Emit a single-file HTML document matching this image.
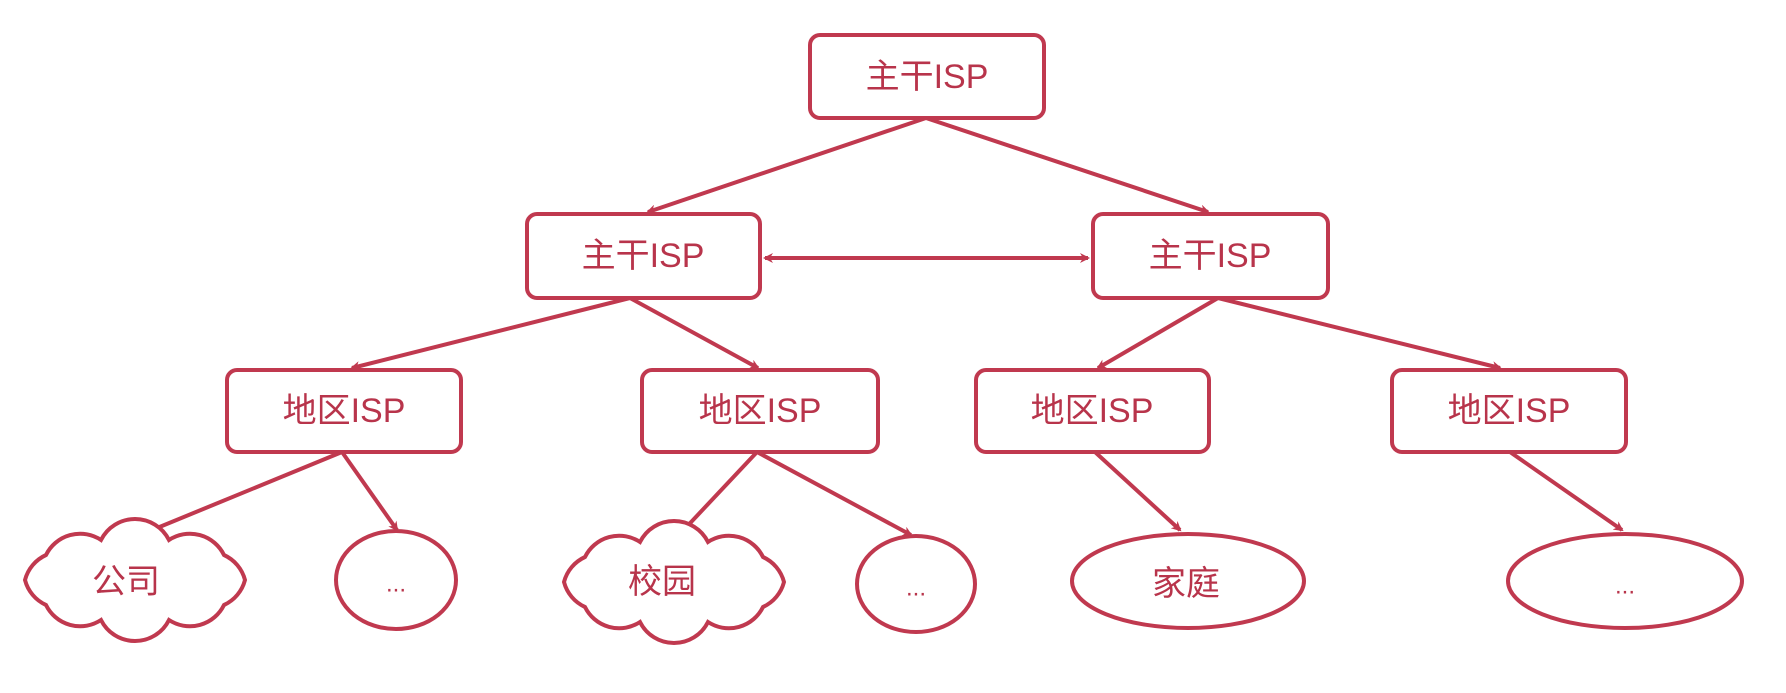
<!DOCTYPE html>
<html><head><meta charset="utf-8"><style>
html,body{margin:0;padding:0;background:#fff;}
svg text{font-family:"Liberation Sans","Noto Sans CJK SC",sans-serif;font-size:34px;fill:#b8344b;text-anchor:middle;dominant-baseline:central;}
</style></head><body>
<svg width="1786" height="688" viewBox="0 0 1786 688" xmlns="http://www.w3.org/2000/svg">
<defs>
<marker id="a" markerWidth="10" markerHeight="10" refX="8" refY="5" orient="auto" markerUnits="userSpaceOnUse" viewBox="0 0 10 10">
<path d="M0,0 L10,5 L0,10 L3,5 Z" fill="#c0394f"/></marker>
<marker id="s" markerWidth="10" markerHeight="10" refX="2" refY="5" orient="auto" markerUnits="userSpaceOnUse" viewBox="0 0 10 10">
<path d="M10,0 L0,5 L10,10 L7,5 Z" fill="#c0394f"/></marker>
<path id="cl" d="M110,0 A38,38 0 0 1 89,25 A38,38 0 0 1 34,40 A38,38 0 0 1 -34,40 A38,38 0 0 1 -89,25 A38,38 0 0 1 -110,0 A38,38 0 0 1 -89,-25 A38,38 0 0 1 -34,-40 A38,38 0 0 1 34,-40 A38,38 0 0 1 89,-25 A38,38 0 0 1 110,0 Z"/>
</defs>
<g fill="none" stroke="#c0394f" stroke-width="4">
<line x1="926" y1="118" x2="648" y2="212" marker-end="url(#a)"/>
<line x1="926" y1="118" x2="1208" y2="212" marker-end="url(#a)"/>
<line x1="765" y1="258" x2="1088" y2="258" marker-end="url(#a)" marker-start="url(#s)"/>
<line x1="630" y1="298" x2="352" y2="368" marker-end="url(#a)"/>
<line x1="630" y1="298" x2="758" y2="368" marker-end="url(#a)"/>
<line x1="1218" y1="298" x2="1098" y2="368" marker-end="url(#a)"/>
<line x1="1218" y1="298" x2="1500" y2="368" marker-end="url(#a)"/>
<line x1="342" y1="452" x2="140" y2="535" marker-end="url(#a)"/>
<line x1="342" y1="452" x2="397" y2="530" marker-end="url(#a)"/>
<line x1="757" y1="452" x2="678" y2="536" marker-end="url(#a)"/>
<line x1="757" y1="452" x2="911" y2="535" marker-end="url(#a)"/>
<line x1="1095" y1="452" x2="1180" y2="530" marker-end="url(#a)"/>
<line x1="1510" y1="452" x2="1622" y2="530" marker-end="url(#a)"/>
</g>
<g fill="#fff" stroke="#c0394f" stroke-width="4">
<rect x="810" y="35" width="234" height="83" rx="10"/>
<rect x="527" y="214" width="233" height="84" rx="10"/>
<rect x="1093" y="214" width="235" height="84" rx="10"/>
<rect x="227" y="370" width="234" height="82" rx="10"/>
<rect x="642" y="370" width="236" height="82" rx="10"/>
<rect x="976" y="370" width="233" height="82" rx="10"/>
<rect x="1392" y="370" width="234" height="82" rx="10"/>
<use href="#cl" transform="translate(135,580)"/>
<use href="#cl" transform="translate(674,582)"/>
<ellipse cx="396" cy="580" rx="60" ry="49"/>
<ellipse cx="916" cy="584" rx="59" ry="48"/>
<ellipse cx="1188" cy="581" rx="116" ry="47"/>
<ellipse cx="1625" cy="581" rx="117" ry="47"/>
</g>
<text x="927" y="77">主干ISP</text>
<text x="643" y="256">主干ISP</text>
<text x="1210" y="256">主干ISP</text>
<text x="344" y="411">地区ISP</text>
<text x="760" y="411">地区ISP</text>
<text x="1092" y="411">地区ISP</text>
<text x="1509" y="411">地区ISP</text>
<text x="126" y="582">公司</text>
<text x="662" y="582">校园</text>
<text x="396" y="584" style="font-size:24px">...</text>
<text x="916" y="588" style="font-size:24px">...</text>
<text x="1186" y="584">家庭</text>
<text x="1625" y="586" style="font-size:24px">...</text>
</svg>
</body></html>
